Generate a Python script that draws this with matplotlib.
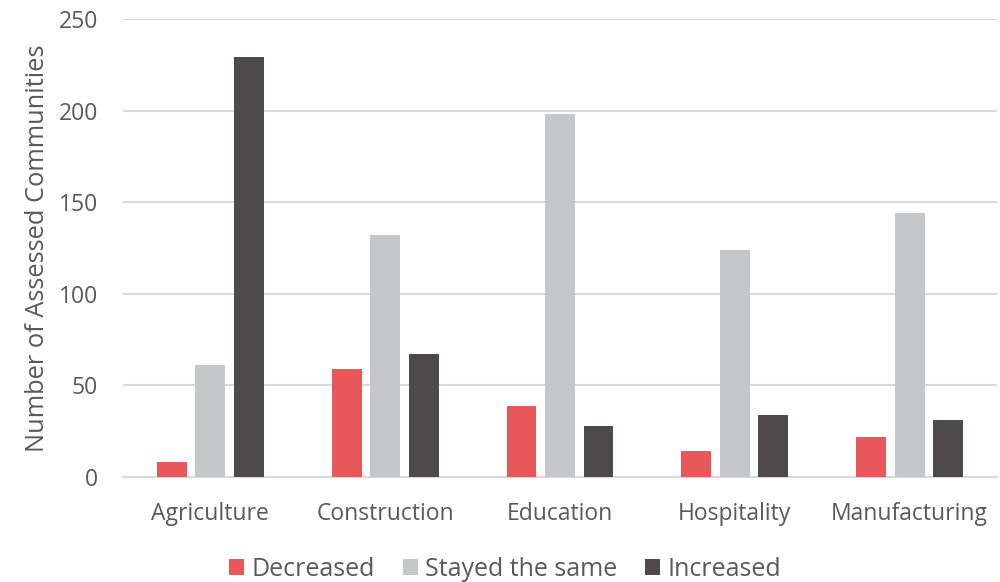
import numpy as np
import matplotlib.pyplot as plt
from matplotlib.patches import Patch

# --- Data ---
sectors = ['Agriculture', 'Construction', 'Education', 'Hospitality', 'Manufacturing']
decreased = [8, 59, 39, 14, 22]
stayed = [61, 132, 198, 124, 144]
increased = [229, 67, 28, 34, 31]
series_names = ['Decreased', 'Stayed the same', 'Increased']
colors = ['#E8585A', '#C6C7C9', '#4E4A4B']

plt.rcParams['font.family'] = ['Open Sans', 'DejaVu Sans']
text_col = '#595959'

fig = plt.figure(figsize=(10, 5.82), dpi=100)
ax = fig.add_axes([0.123, 0.1804, 0.874, 0.787])

x = np.arange(len(sectors))
w = 0.171
step = 0.22
for i, (vals, c) in enumerate(zip([decreased, stayed, increased], colors)):
    ax.bar(x + (i - 1) * step, vals, width=w, color=c, zorder=3)

ax.set_xlim(-0.5, len(sectors) - 0.5)
ax.set_ylim(0, 250)
ax.set_yticks(np.arange(0, 251, 50))
ax.set_xticks(x)
ax.set_xticklabels(sectors)

ax.grid(axis='y', color='#D9D9D9', linewidth=1.5, zorder=0)
for s in ['top', 'right', 'left']:
    ax.spines[s].set_visible(False)
ax.spines['bottom'].set_color('#D9D9D9')
ax.spines['bottom'].set_linewidth(1.5)
ax.tick_params(axis='both', length=0, labelsize=16.5, colors=text_col)
ax.tick_params(axis='x', pad=18)
ax.tick_params(axis='y', pad=18)
ax.set_ylabel('Number of Assessed Communities', fontsize=18.3, color=text_col, labelpad=6)

handles = [Patch(facecolor=c, label=n) for c, n in zip(colors, series_names)]
fig.legend(handles=handles, loc='center', bbox_to_anchor=(0.505, 0.022), ncol=3,
           frameon=False, fontsize=18, labelcolor=text_col, handlelength=0.6,
           handleheight=0.6, handletextpad=0.3, columnspacing=1.1)

fig.savefig('out.png', dpi=100)
